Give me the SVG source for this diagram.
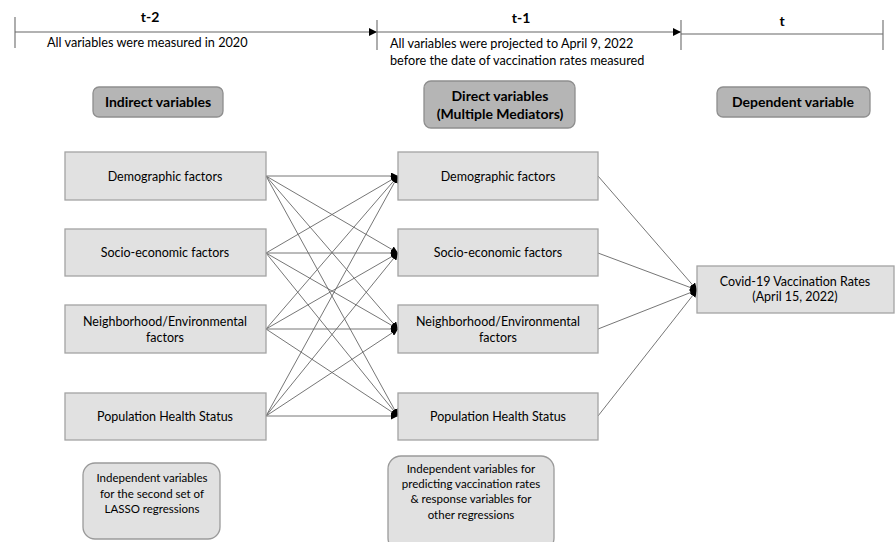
<svg xmlns="http://www.w3.org/2000/svg" width="895" height="542" viewBox="0 0 895 542">
<defs>
<marker id="ah" viewBox="0 0 10 10" refX="10" refY="5" markerWidth="7" markerHeight="7" markerUnits="userSpaceOnUse" orient="auto">
<path d="M0,0 L10,5 L0,10 z" fill="#000"/>
</marker>
<marker id="ah2" viewBox="0 0 10 10" refX="10" refY="5" markerWidth="8" markerHeight="8" markerUnits="userSpaceOnUse" orient="auto">
<path d="M0,0 L10,5 L0,10 z" fill="#000"/>
</marker>
</defs>
<style>
text{font-family:"Lato","Liberation Sans",sans-serif;fill:#000;}
.t{font-size:12.5px;text-anchor:middle;}
.n{font-size:11.5px;text-anchor:middle;}
.tl{font-size:12.7px;}
.b{font-weight:bold;font-size:14px;text-anchor:middle;}
.node{fill:#e1e1e1;stroke:#a3a3a3;stroke-width:1.3;}
.hdr{fill:#b5b5b5;stroke:#8e8e8e;stroke-width:1.3;}
.note{fill:#e1e1e1;stroke:#9a9a9a;stroke-width:1.3;}
.tick{stroke:#777;stroke-width:1.2;}
.tline{stroke:#666;stroke-width:1.2;fill:none;}
.c{stroke:#666;stroke-width:0.9;fill:none;marker-end:url(#ah);}
</style>
<rect width="895" height="542" fill="#fff"/>

<g id="timeline">
<line class="tick" x1="15" y1="17" x2="15" y2="48"/>
<line class="tline" x1="15" y1="32" x2="377" y2="32" marker-end="url(#ah2)"/>
<line class="tick" x1="377" y1="20" x2="377" y2="50"/>
<line class="tline" x1="377" y1="32" x2="681" y2="32" marker-end="url(#ah2)"/>
<line class="tick" x1="681" y1="20" x2="681" y2="50"/>
<line class="tline" x1="681" y1="34" x2="883" y2="34"/>
<line class="tick" x1="883" y1="20" x2="883" y2="50"/>
<text class="b" x="150" y="22">t-2</text>
<text class="b" x="521" y="23">t-1</text>
<text class="b" x="782" y="26">t</text>
<text class="tl" x="47" y="47">All variables were measured in 2020</text>
<text class="tl" x="390" y="48">All variables were projected to April 9, 2022</text>
<text class="tl" x="390" y="65">before the date of vaccination rates measured</text>
</g>

<g id="hdr-indirect">
<rect class="hdr" x="93" y="87" width="130" height="30" rx="6"/>
<text class="b" x="158" y="107">Indirect variables</text>
</g>
<g id="hdr-direct">
<rect class="hdr" x="424" y="81" width="151" height="47" rx="7"/>
<text class="b" x="500" y="101">Direct variables</text>
<text class="b" x="500" y="119">(Multiple Mediators)</text>
</g>
<g id="hdr-dependent">
<rect class="hdr" x="717" y="87" width="153" height="30" rx="6"/>
<text class="b" x="793" y="107">Dependent variable</text>
</g>

<g id="connectors">
<line class="c" x1="266" y1="176" x2="398" y2="176"/>
<line class="c" x1="266" y1="176" x2="398" y2="253"/>
<line class="c" x1="266" y1="176" x2="398" y2="329"/>
<line class="c" x1="266" y1="176" x2="398" y2="416"/>
<line class="c" x1="266" y1="253" x2="398" y2="176"/>
<line class="c" x1="266" y1="253" x2="398" y2="253"/>
<line class="c" x1="266" y1="253" x2="398" y2="329"/>
<line class="c" x1="266" y1="253" x2="398" y2="416"/>
<line class="c" x1="266" y1="329" x2="398" y2="176"/>
<line class="c" x1="266" y1="329" x2="398" y2="253"/>
<line class="c" x1="266" y1="329" x2="398" y2="329"/>
<line class="c" x1="266" y1="329" x2="398" y2="416"/>
<line class="c" x1="266" y1="416" x2="398" y2="176"/>
<line class="c" x1="266" y1="416" x2="398" y2="253"/>
<line class="c" x1="266" y1="416" x2="398" y2="329"/>
<line class="c" x1="266" y1="416" x2="398" y2="416"/>
<line class="c" x1="598" y1="176" x2="697" y2="290"/>
<line class="c" x1="598" y1="253" x2="697" y2="290"/>
<line class="c" x1="598" y1="329" x2="697" y2="290"/>
<line class="c" x1="598" y1="416" x2="697" y2="290"/>
</g>

<g id="l-demo">
<rect class="node" x="65" y="152" width="201" height="48"/>
<text class="t" x="165" y="181">Demographic factors</text>
</g>
<g id="l-socio">
<rect class="node" x="65" y="229" width="201" height="47"/>
<text class="t" x="165" y="257">Socio-economic factors</text>
</g>
<g id="l-neigh">
<rect class="node" x="65" y="305" width="201" height="48"/>
<text class="t" x="165" y="326">Neighborhood/Environmental</text>
<text class="t" x="165" y="342">factors</text>
</g>
<g id="l-health">
<rect class="node" x="65" y="393" width="201" height="47"/>
<text class="t" x="165" y="421">Population Health Status</text>
</g>

<g id="m-demo">
<rect class="node" x="398" y="152" width="200" height="48"/>
<text class="t" x="498" y="181">Demographic factors</text>
</g>
<g id="m-socio">
<rect class="node" x="398" y="229" width="200" height="47"/>
<text class="t" x="498" y="257">Socio-economic factors</text>
</g>
<g id="m-neigh">
<rect class="node" x="398" y="305" width="200" height="48"/>
<text class="t" x="498" y="326">Neighborhood/Environmental</text>
<text class="t" x="498" y="342">factors</text>
</g>
<g id="m-health">
<rect class="node" x="398" y="393" width="200" height="47"/>
<text class="t" x="498" y="421">Population Health Status</text>
</g>

<g id="r-vacc">
<rect class="node" x="697" y="266" width="197" height="47"/>
<text class="t" x="795" y="286">Covid-19 Vaccination Rates</text>
<text class="t" x="795" y="301">(April 15, 2022)</text>
</g>

<g id="note-left">
<rect class="note" x="83" y="463" width="137" height="76" rx="12"/>
<text class="n" x="152" y="482">Independent variables</text>
<text class="n" x="152" y="497.5">for the second set of</text>
<text class="n" x="152" y="513">LASSO regressions</text>
</g>
<g id="note-mid">
<rect class="note" x="388" y="456" width="166" height="95" rx="13"/>
<text class="n" x="471" y="473">Independent variables for</text>
<text class="n" x="471" y="488">predicting vaccination rates</text>
<text class="n" x="471" y="503">&amp; response variables for</text>
<text class="n" x="471" y="519">other regressions</text>
</g>
</svg>
